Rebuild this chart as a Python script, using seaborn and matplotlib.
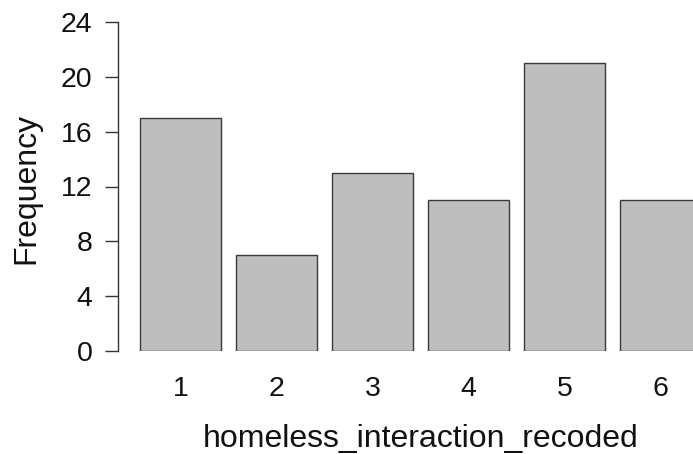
import matplotlib
matplotlib.use("Agg")
import matplotlib.pyplot as plt
import seaborn as sns
import pandas as pd

# Counts per recoded homeless-interaction category
categories = ["1", "2", "3", "4", "5", "6"]
frequencies = [17, 7, 13, 11, 21, 11]
y_ticks = [0, 4, 8, 12, 16, 20, 24]

df = pd.DataFrame({"category": categories, "frequency": frequencies})

sns.set_style("white")
plt.rcParams["font.family"] = ["Liberation Sans", "DejaVu Sans"]

fig = plt.figure(figsize=(6.93, 4.54), dpi=100)
ax = fig.add_axes([118 / 693, 103 / 454, 575 / 693, 329 / 454])

sns.barplot(data=df, x="category", y="frequency", order=categories,
            color="#bebebe", saturation=1, width=0.844,
            edgecolor="#3a3a3a", linewidth=1.0, ax=ax)

ax.set_xlim(-0.651, 5.339)
ax.set_ylim(0, 24)
ax.set_yticks(y_ticks)
ax.set_yticklabels([str(t) for t in y_ticks])

for side in ["top", "right", "bottom"]:
    ax.spines[side].set_visible(False)
ax.spines["left"].set_color("#333333")
ax.spines["left"].set_linewidth(1.0)

ax.tick_params(axis="y", which="both", left=True, length=9.5, width=1.0,
               color="#333333", pad=9, labelsize=20.5, labelcolor="#111111")
ax.tick_params(axis="x", which="both", bottom=False, length=0, pad=18,
               labelsize=20.5, labelcolor="#111111")

ax.set_xlabel("homeless_interaction_recoded", fontsize=23, color="#111111")
ax.set_ylabel("Frequency", fontsize=23, color="#111111")
ax.xaxis.set_label_coords(0.526, -0.292)
ax.xaxis.label.set_va("baseline")
ax.yaxis.set_label_coords(-0.16, 0.495)
ax.yaxis.label.set_va("center")

ax.grid(False)
fig.savefig("out.png", dpi=100, facecolor="white")
